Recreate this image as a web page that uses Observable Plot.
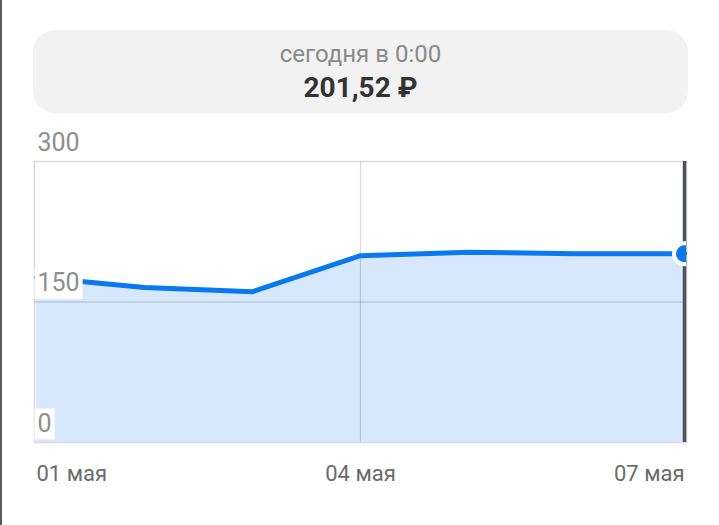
<!DOCTYPE html>
<html>
<head>
<meta charset="utf-8">
<script src="https://cdn.jsdelivr.net/npm/d3@7"></script>
<script src="https://cdn.jsdelivr.net/npm/@observablehq/plot@0.6"></script>
<style>
  html, body { margin: 0; padding: 0; background: #fff; }
  body { width: 719px; height: 525px; position: relative; overflow: hidden; font-family: Roboto, "Noto Sans", sans-serif; }
  #edge { position: absolute; left: 0; top: 0; width: 2px; height: 525px; background: #5a5a5a; }
  #card { position: absolute; left: 33px; top: 30px; width: 655px; height: 83px; background: #f2f2f2; border-radius: 22px; text-align: center; }
  #sub { position: absolute; left: 0; right: 0; top: 9px; font-size: 24px; color: #8a8a8a; line-height: 30px; }
  #val { position: absolute; left: 0; right: 0; top: 42px; font-size: 28px; font-weight: 700; color: #333; line-height: 32px; }
  #chart { position: absolute; left: 0; top: 125px; }
</style>
</head>
<body>
<div id="edge"></div>
<div id="card"><div id="sub">сегодня в 0:00</div><div id="val">201,52 ₽</div></div>
<div id="chart"></div>
<script>
const days = ["01 мая", "02 мая", "03 мая", "04 мая", "05 мая", "06 мая", "07 мая"];
const prices = [176.5, 165.5, 161, 199.5, 203.2, 201.6, 201.52];
const xTickLabels = ["01 мая", "04 мая", "07 мая"];
const yTicks = [0, 150, 300];

const data = days.map((d, i) => ({day: d, price: prices[i]}));
const last = data[data.length - 1];

const blue = "#0a78ee";
const fillBlue = "#d7e8fc";
const mL = 34;

const plot = Plot.plot({
  width: 719,
  height: 400,
  marginTop: 36,
  marginBottom: 83,
  marginLeft: mL,
  marginRight: 33,
  style: {fontFamily: "Roboto, 'Noto Sans', sans-serif", background: "transparent", overflow: "visible"},
  x: {type: "point", domain: days, padding: 0, axis: null},
  y: {domain: [0, 300], axis: null},
  marks: [
    Plot.frame({stroke: "#dadada", strokeWidth: 1.5}),
    Plot.areaY(data, {x: "day", y: "price", fill: fillBlue}),
    Plot.ruleX([xTickLabels[1]], {stroke: "#000", strokeOpacity: 0.14, strokeWidth: 1.2}),
    Plot.ruleY([yTicks[1]], {stroke: "#000", strokeOpacity: 0.14, strokeWidth: 1.5}),
    Plot.lineY(data, {x: "day", y: "price", stroke: blue, strokeWidth: 5, strokeLinejoin: "round", strokeLinecap: "round"}),
    Plot.text(yTicks, {
      y: d => d, text: d => String(d), frameAnchor: "left", textAnchor: "start",
      dx: 3, dy: -19, fontSize: 25, fill: "#8e8e8e"
    }),
    Plot.ruleX([last.day], {stroke: "#4c5260", strokeWidth: 3.5}),
    Plot.dot([last], {x: "day", y: "price", r: 10.5, fill: blue, stroke: "white", strokeWidth: 4, clip: true}),
    Plot.text([xTickLabels[0]], {x: d => d, text: d => d, frameAnchor: "bottom", dy: 38, textAnchor: "start", fontSize: 22, fill: "#6b6b6b"}),
    Plot.text([xTickLabels[1]], {x: d => d, text: d => d, frameAnchor: "bottom", dy: 38, textAnchor: "middle", fontSize: 22, fill: "#6b6b6b"}),
    Plot.text([xTickLabels[2]], {x: d => d, text: d => d, frameAnchor: "bottom", dy: 38, textAnchor: "end", fontSize: 22, fill: "#6b6b6b"})
  ]
});
document.getElementById("chart").appendChild(plot);

// white label boxes behind the y tick labels (inside the frame)
const yLabelGroup = plot.querySelectorAll('g[aria-label="text"]')[0];
if (yLabelGroup) {
  const ns = "http://www.w3.org/2000/svg";
  yLabelGroup.querySelectorAll("text").forEach(t => {
    const b = t.getBBox();
    const ctm = t.getCTM();
    const g = t.parentNode;
    const r = document.createElementNS(ns, "rect");
    // bbox is in the text's own coordinates; use it directly within same transform
    r.setAttribute("x", b.x - 3);
    r.setAttribute("y", b.y);
    r.setAttribute("width", b.width + 6);
    r.setAttribute("height", b.height + 2);
    r.setAttribute("fill", "white");
    if (t.getAttribute("transform")) r.setAttribute("transform", t.getAttribute("transform"));
    g.insertBefore(r, t);
  });
}
</script>
</body>
</html>
